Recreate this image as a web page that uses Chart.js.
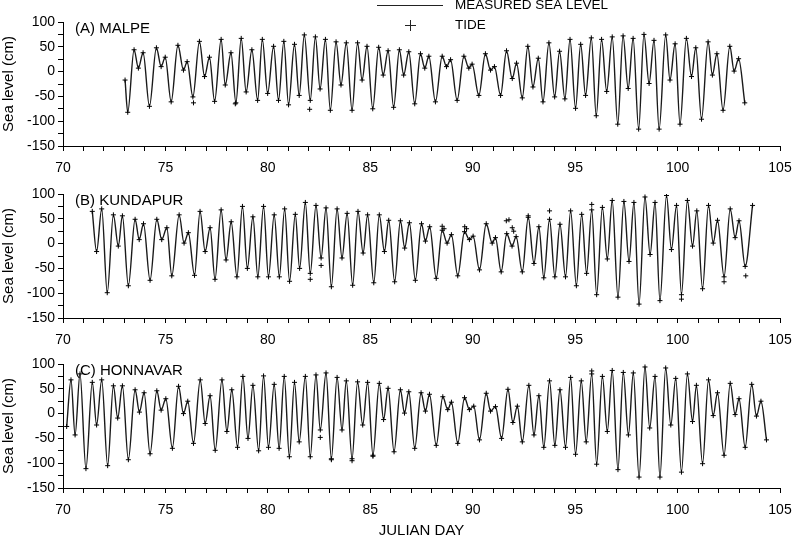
<!DOCTYPE html>
<html>
<head>
<meta charset="utf-8">
<script src="https://cdn.jsdelivr.net/npm/chart.js@4.4.1/dist/chart.umd.min.js"></script>
<style>
  body { margin: 0; background: #fff; width: 807px; height: 540px; position: relative; overflow: hidden; }
  canvas { position: absolute; left: 0; }
</style>
</head>
<body>
<canvas id="chartA" width="807" height="172" style="top:0px"></canvas>
<canvas id="chartB" width="807" height="172" style="top:172px"></canvas>
<canvas id="chartC" width="807" height="198" style="top:342px"></canvas>
<script>
// High / low water (julian day, cm)
const malpeDays = [73.03,73.16,73.47,73.68,73.91,74.22,74.56,74.79,74.99,75.28,75.61,75.88,76.06,76.34,76.66,76.91,77.15,77.40,77.72,77.92,78.20,78.44,78.70,78.94,79.22,79.50,79.73,79.99,80.28,80.52,80.78,81.01,81.30,81.53,81.78,82.07,82.32,82.55,82.81,83.05,83.33,83.57,83.83,84.11,84.38,84.60,84.84,85.12,85.41,85.63,85.87,86.14,86.42,86.63,86.88,87.17,87.45,87.66,87.86,88.18,88.51,88.72,88.92,89.24,89.57,89.81,89.97,90.30,90.62,90.87,91.06,91.36,91.65,91.93,92.14,92.42,92.69,92.94,93.20,93.43,93.72,94.00,94.24,94.50,94.75,95.02,95.27,95.51,95.79,96.03,96.29,96.54,96.81,97.08,97.34,97.59,97.83,98.10,98.36,98.61,98.85,99.10,99.42,99.63,99.88,100.12,100.43,100.68,100.89,101.17,101.49,101.70,101.92,102.22,102.55,102.76,102.98,103.28];
const malpeLevel = [-17,-82,44,7,38,-70,48,10,29,-61,53,3,20,-51,61,-10,29,-60,65,-27,38,-63,67,-41,44,-58,65,-44,51,-58,61,-67,55,-48,74,-58,70,-35,65,-78,60,-27,58,-78,58,-17,51,-75,49,-7,42,-72,44,-7,40,-65,36,7,31,-61,31,10,24,-58,31,7,15,-48,36,3,10,-48,42,-14,17,-53,51,-31,27,-61,58,-51,41,-55,65,-74,55,-48,68,-89,65,-40,70,-106,72,-34,67,-116,75,-24,63,-116,74,-17,56,-106,67,-10,48,-96,60,-7,36,-78,51,1,26,-63];
const malpeTideDays = [76.37, 78.41, 82.04];
const malpeTide = [-63, -65, -76];

const kundapurDays = [71.43,71.64,71.89,72.16,72.46,72.70,72.90,73.19,73.52,73.72,73.93,74.25,74.58,74.82,75.07,75.31,75.67,75.91,76.12,76.42,76.69,76.94,77.18,77.42,77.72,77.96,78.21,78.49,78.76,79.00,79.27,79.51,79.79,80.03,80.31,80.56,80.82,81.06,81.34,81.55,81.83,82.07,82.35,82.60,82.84,83.10,83.38,83.62,83.87,84.14,84.40,84.65,84.87,85.17,85.44,85.69,85.90,86.19,86.47,86.68,86.91,87.20,87.50,87.69,87.90,88.22,88.51,88.75,88.96,89.27,89.60,89.84,90.02,90.33,90.66,90.95,91.11,91.39,91.66,91.92,92.12,92.42,92.71,92.99,93.23,93.47,93.75,94.01,94.26,94.53,94.78,95.06,95.32,95.56,95.81,96.05,96.33,96.57,96.81,97.09,97.38,97.63,97.87,98.12,98.41,98.66,98.90,99.14,99.46,99.70,99.95,100.19,100.48,100.73,100.94,101.22,101.51,101.74,101.95,102.27,102.57,102.81,103.00,103.30,103.66];
const kundapurLevel = [65,-16,70,-99,58,-5,56,-85,49,8,40,-74,49,8,32,-65,58,1,22,-64,65,-16,32,-72,68,-33,44,-67,75,-50,54,-67,75,-67,58,-67,70,-76,59,-50,83,-60,77,-29,72,-87,70,-29,61,-84,65,-19,58,-79,58,-16,47,-77,46,-9,42,-74,40,5,34,-70,27,1,18,-65,24,8,15,-53,40,1,12,-57,20,-5,14,-57,53,-40,34,-69,49,-67,39,-67,66,-85,59,-60,68,-103,73,-31,87,-108,85,-36,83,-122,94,-22,83,-115,97,-12,77,-103,87,-5,66,-91,77,1,47,-67,70,12,46,-46,77];
const kundapurTideDays = [82.07,82.60,88.51,88.60,89.61,89.70,91.64,91.77,91.93,92.00,92.71,93.75,95.81,100.19,102.27,103.33];
const kundapurTide = [-72,-44,35,30,34,30,46,48,32,25,56,66,79,-112,-77,-65];

const honnavarDays = [70.18,70.39,70.59,70.83,71.12,71.43,71.64,71.89,72.18,72.46,72.67,72.90,73.19,73.52,73.73,73.96,74.25,74.58,74.79,75.02,75.34,75.64,75.88,76.09,76.37,76.70,76.94,77.18,77.43,77.76,78.00,78.24,78.52,78.78,79.03,79.27,79.55,79.79,80.03,80.31,80.55,80.80,81.05,81.30,81.53,81.83,82.07,82.35,82.56,82.84,83.10,83.38,83.62,83.83,84.11,84.38,84.63,84.87,85.13,85.44,85.65,85.87,86.16,86.47,86.67,86.88,87.17,87.48,87.69,87.89,88.22,88.54,88.78,88.96,89.27,89.60,89.84,90.05,90.33,90.66,90.87,91.11,91.41,91.72,91.96,92.18,92.42,92.74,92.99,93.23,93.47,93.75,94.01,94.26,94.53,94.78,95.02,95.30,95.54,95.81,96.05,96.33,96.57,96.81,97.09,97.35,97.60,97.84,98.12,98.41,98.64,98.90,99.14,99.42,99.67,99.91,100.19,100.48,100.73,100.92,101.22,101.51,101.74,101.95,102.27,102.57,102.81,103.00,103.30,103.62,103.85,104.07,104.34];
const honnavarLevel = [-26,68,-43,80,-111,63,-23,68,-105,56,-9,56,-93,48,3,42,-81,46,7,30,-70,55,0,25,-60,68,-20,36,-74,68,-36,48,-68,75,-50,57,-75,76,-68,59,-70,75,-87,63,-57,75,-87,78,-33,82,-91,73,-33,66,-91,64,-23,63,-84,61,-12,51,-77,48,1,44,-70,42,5,39,-64,34,8,23,-60,32,8,15,-53,41,5,14,-50,49,-18,15,-57,57,-43,36,-68,66,-64,48,-68,73,-82,66,-57,80,-102,75,-36,87,-113,83,-43,82,-128,94,-29,75,-128,92,-23,71,-118,80,-16,57,-101,68,-4,42,-84,61,-2,30,-68,59,-5,25,-53];
const honnavarTideDays = [82.56, 83.10, 84.11, 85.13, 95.81];
const honnavarTide = [-48, -93, -95, -86, 86];

const xTicks = [70, 75, 80, 85, 90, 95, 100, 105];
const yTicks = [100, 50, 0, -50, -100, -150];

const FONT = '"Liberation Sans", Arial, sans-serif';

function toPoints(days, vals) {
    return days.map((d, i) => ({ x: d, y: vals[i] }));
}

const panelLabel = {
    id: 'panelLabel',
    afterDraw(chart, args, opts) {
        const { ctx, chartArea } = chart;
        ctx.save();
        ctx.fillStyle = '#000';
        ctx.font = '15px ' + FONT;
        ctx.textBaseline = 'middle';
        ctx.fillText(opts.text, chartArea.left + 12, chartArea.top + 7);
        if (opts.legend) {
            // legend box up top
            ctx.font = '13.5px ' + FONT;
            ctx.strokeStyle = '#222';
            ctx.lineWidth = 1;
            ctx.beginPath();
            ctx.moveTo(377, 5.5);
            ctx.lineTo(443, 5.5);
            ctx.moveTo(405, 25.5);
            ctx.lineTo(416, 25.5);
            ctx.moveTo(410.5, 20);
            ctx.lineTo(410.5, 31);
            ctx.stroke();
            ctx.fillText('MEASURED SEA LEVEL', 455, 5);
            ctx.fillText('TIDE', 455, 25);
        }
        ctx.restore();
    }
};

function makePanel(canvasId, label, days, level, tideDays, tideLevel, lastPanel) {
    const tidePts = toPoints(days, level).concat(toPoints(tideDays, tideLevel));
    return new Chart(document.getElementById(canvasId), {
        type: 'line',
        data: {
            datasets: [{
                label: 'MEASURED SEA LEVEL',
                data: toPoints(days, level),
                borderColor: '#1a1a1a',
                borderWidth: 1.4,
                pointRadius: 0,
                cubicInterpolationMode: 'monotone',
                order: 2
            }, {
                label: 'TIDE',
                data: tidePts,
                showLine: false,
                pointStyle: 'cross',
                pointRadius: 2.5,
                borderColor: '#000',
                borderWidth: 1,
                order: 1
            }]
        },
        options: {
            responsive: false,
            animation: false,
            layout: { padding: { top: 22, right: 27, left: 0, bottom: 0 } },
            plugins: {
                legend: { display: false },
                tooltip: { enabled: false },
                panelLabel: { text: label, legend: canvasId === 'chartA' }
            },
            scales: {
                x: {
                    type: 'linear',
                    min: 70,
                    max: 105,
                    afterBuildTicks: (s) => {
                        s.ticks = [];
                        for (let d = 70; d <= 105; d++) s.ticks.push({ value: d });
                    },
                    afterFit: (s) => { s.height = lastPanel ? 52 : 26; },
                    ticks: {
                        autoSkip: false,
                        maxRotation: 0,
                        padding: 9,
                        color: '#000',
                        font: { family: FONT, size: 14 },
                        callback: (v) => xTicks.includes(v) ? String(v) : ''
                    },
                    grid: { drawOnChartArea: false, tickLength: 5, tickColor: '#000' },
                    border: { color: '#000', width: 1 },
                    title: {
                        display: lastPanel,
                        text: 'JULIAN DAY',
                        color: '#000',
                        font: { family: FONT, size: 15 },
                        padding: { top: 3, bottom: 0 }
                    }
                },
                y: {
                    min: -150,
                    max: 100,
                    afterBuildTicks: (s) => {
                        s.ticks = [];
                        for (let v = -150; v <= 100; v += 25) s.ticks.push({ value: v });
                    },
                    afterFit: (s) => { s.width = 63; },
                    ticks: {
                        autoSkip: false,
                        padding: 3,
                        color: '#000',
                        font: { family: FONT, size: 14 },
                        callback: (v) => yTicks.includes(v) ? String(v) : ''
                    },
                    grid: { drawOnChartArea: false, tickLength: 5, tickColor: '#000' },
                    border: { color: '#000', width: 1 },
                    title: {
                        display: true,
                        text: 'Sea level (cm)',
                        color: '#000',
                        font: { family: FONT, size: 15 },
                        padding: { top: 0, bottom: 0 }
                    }
                }
            }
        },
        plugins: [panelLabel]
    });
}

makePanel('chartA', '(A) MALPE', malpeDays, malpeLevel, malpeTideDays, malpeTide, false);
makePanel('chartB', '(B) KUNDAPUR', kundapurDays, kundapurLevel, kundapurTideDays, kundapurTide, false);
makePanel('chartC', '(C) HONNAVAR', honnavarDays, honnavarLevel, honnavarTideDays, honnavarTide, true);
</script>
</body>
</html>
